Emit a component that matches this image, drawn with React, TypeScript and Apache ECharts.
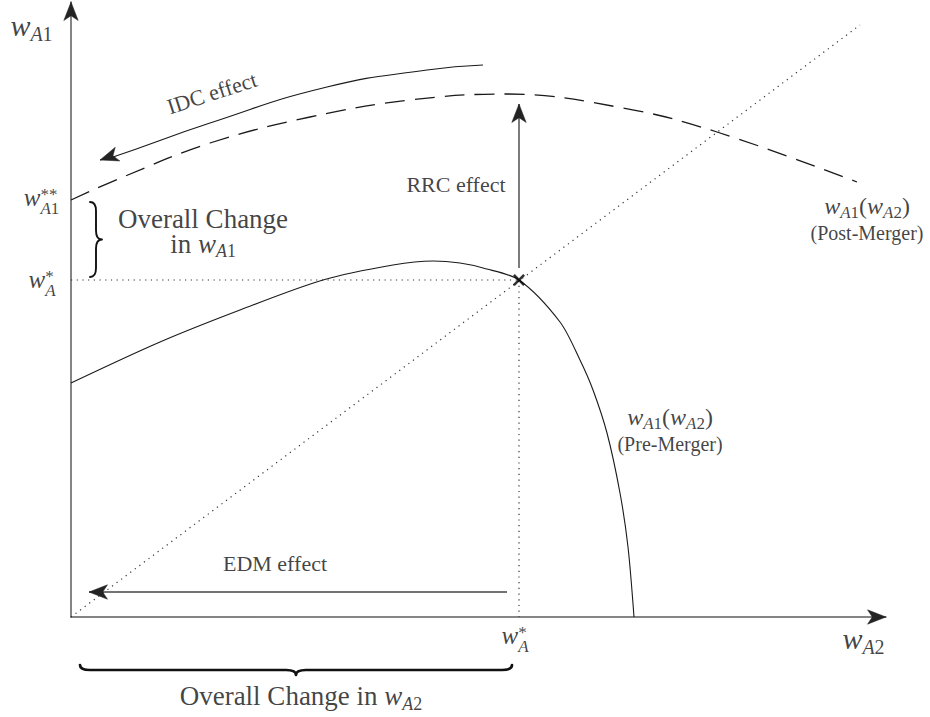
import React, { useEffect, useRef } from "react";
import * as echarts from "echarts";

// ---------- axis extents (data units) ----------
const X_MAX = 815;
const Y_MAX = 615;

// ---------- curves ----------
const preMergerCurve = [
  [0, 234], [89, 275], [169, 307], [252, 337], [322, 352], [362, 356], [389, 354],
  [412, 349], [448, 337], [489, 295], [509, 257], [522, 227], [536, 184], [549, 124],
  [557, 70], [563, 0],
];
const postMergerCurve = [
  [0, 417], [52, 440], [139, 474], [239, 500], [339, 517], [436, 523], [552, 509],
  [646, 485], [786, 435],
];
const idcCurve = [[412, 552], [356, 547], [256, 530], [139, 494], [42, 460], [29, 457]];
const diagonal45 = [[0, 0], [789, 592]];
const equilibrium = [448, 337];
const eqHorizontal = [[0, 337], [448, 337]];
const eqVertical = [[448, 337], [448, 0]];
const rrcArrow = [[448, 349], [448, 513]];
const edmArrow = [[436, 25], [18, 25]];
const axisArrowTips = [[0, 590, 0, Y_MAX], [790, 0, X_MAX, 0]];
const braceSpans = [[19, 415, 19, 340], [9, -48, 441, -48]];

// ---------- annotation texts and anchors ----------
const labelTexts = [
  "{wL|w}{sLA|A}{sLN|1}",
  "{wL|w}{sLA|A}{sLN|2}",
  "{wM|w}{stM|**}{sbA2|A}{sbN|1}",
  "{wM|w}{stM|*}{sbA1|A}",
  "{wM|w}{stM|*}{sbA1|A}",
  "{oT|Overall Change}\n{oI|in }{oW|w}{oSA|A}{oSN|1}",
  "{oI|Overall Change in }{oW|w}{oSA|A}{oSN|2}",
  "{e|IDC effect}",
  "{e|RRC effect}",
  "{e|EDM effect}",
  "{wC|w}{sCA|A}{sCN|1}{pC|(}{wC|w}{sCA|A}{sCN|2}{pC|)}\n{nC|(Post-Merger)}",
  "{wC|w}{sCA|A}{sCN|1}{pC|(}{wC|w}{sCA|A}{sCN|2}{pC|)}\n{nC|(Pre-Merger)}",
];
const labelAnchors = [
  [-39.5, 590], [792.5, -23], [-29.5, 416], [-29, 334], [444, -21.5],
  [132, 383], [230, -80.5], [141, 524], [385, 433], [204, 53.5],
  [796, 398], [599, 187],
];
const labelRotations = [0, 0, 0, 0, 0, 0, 0, 18, 0, 0, 0, 0];

// ---------- styles ----------
const SERIF = "'Liberation Serif','Times New Roman',serif";
const INK = "#111111";
const braceShapes = [
  { depth: 12, r: 9, side: -1, width: 1.9 },
  { depth: 10, r: 10, side: 1, width: 2.7 },
];

const t = (size: number, lh: number, extra: any = {}) => ({
  fontFamily: SERIF, fontSize: size, lineHeight: lh, color: INK, ...extra,
});
const IT = { fontStyle: "italic" };
const richStyles = {
  wL: t(30, 34, { ...IT, verticalAlign: "top" }),
  sLA: t(20, 34, { ...IT, verticalAlign: "bottom" }),
  sLN: t(20, 34, { verticalAlign: "bottom" }),
  wM: t(25, 32, { ...IT, verticalAlign: "top" }),
  stM: t(17, 32, { verticalAlign: "top", padding: [1, 0, 0, 0] }),
  sbA1: t(17, 32, { ...IT, verticalAlign: "bottom", padding: [0, 0, 0, -8.5] }),
  sbA2: t(17, 32, { ...IT, verticalAlign: "bottom", padding: [0, 0, 0, -17] }),
  sbN: t(17, 32, { verticalAlign: "bottom" }),
  wC: t(24, 27, { ...IT, verticalAlign: "top" }),
  pC: t(24, 27, { verticalAlign: "top" }),
  sCA: t(17, 27, { ...IT, verticalAlign: "bottom" }),
  sCN: t(17, 27, { verticalAlign: "bottom" }),
  nC: t(20, 23),
  e: t(22, 24),
  oT: t(27, 22),
  oI: t(27, 30, { verticalAlign: "top" }),
  oW: t(27, 30, { ...IT, verticalAlign: "top" }),
  oSA: t(18, 30, { ...IT, verticalAlign: "bottom" }),
  oSN: t(18, 30, { verticalAlign: "bottom" }),
};

function bracePath(a: number[], b: number[], depth: number, r: number, side: number) {
  const dx = b[0] - a[0];
  const dy = b[1] - a[1];
  const L = Math.hypot(dx, dy);
  const ex = dx / L, ey = dy / L;
  const nx = -ey * side, ny = ex * side;
  const P = (u: number, v: number) =>
    `${(a[0] + u * ex + v * nx).toFixed(2)} ${(a[1] + u * ey + v * ny).toFixed(2)}`;
  const h = depth / 2, m = L / 2;
  return `M ${P(0, 0)} Q ${P(0, h)} ${P(r, h)} L ${P(m - r, h)} Q ${P(m, h)} ${P(m, depth)} ` +
    `Q ${P(m, h)} ${P(m + r, h)} L ${P(L - r, h)} Q ${P(L, h)} ${P(L, 0)}`;
}

function arrowHead(params: any, api: any) {
  const p0 = api.coord([api.value(0), api.value(1)]);
  const p1 = api.coord([api.value(2), api.value(3)]);
  const dx = p1[0] - p0[0], dy = p1[1] - p0[1];
  const len = Math.hypot(dx, dy) || 1;
  const ux = dx / len, uy = dy / len;
  const nx = -uy, ny = ux;
  const L = 18.5, W = 7.2, N = 0.74;
  const bx = p1[0] - ux * L, by = p1[1] - uy * L;
  return {
    type: "polygon",
    shape: {
      points: [
        [p1[0], p1[1]],
        [bx + nx * W, by + ny * W],
        [p1[0] - ux * L * N, p1[1] - uy * L * N],
        [bx - nx * W, by - ny * W],
      ],
    },
    style: { fill: "#232323", stroke: "#232323", lineWidth: 0.5 },
  };
}

function brace(params: any, api: any) {
  const a = api.coord([api.value(0), api.value(1)]);
  const b = api.coord([api.value(2), api.value(3)]);
  const s = braceShapes[params.dataIndex];
  return {
    type: "path",
    shape: { pathData: bracePath(a, b, s.depth, s.r, s.side) },
    style: { stroke: INK, fill: "none", lineWidth: s.width, lineJoin: "round", lineCap: "round" },
  };
}

const lineBase = (data: number[][], color: string, width: number, type: any, smooth: any = false) => ({
  type: "line",
  data,
  smooth,
  symbol: "none",
  showSymbol: false,
  silent: true,
  clip: false,
  lineStyle: { color, width, type },
});

function buildOption() {
  const axisCommon = {
    type: "value",
    axisLine: { show: true, onZero: false, lineStyle: { color: "#5c5c5c", width: 1.5 } },
    axisTick: { show: false },
    axisLabel: { show: false },
    splitLine: { show: false },
  };
  return {
    animation: false,
    backgroundColor: "#ffffff",
    grid: { left: 71, right: 930 - 71 - X_MAX, top: 717 - 100 - Y_MAX, bottom: 100, containLabel: false },
    xAxis: { ...axisCommon, min: 0, max: X_MAX },
    yAxis: { ...axisCommon, min: 0, max: Y_MAX },
    series: [
      { ...lineBase(diagonal45, "#333333", 1.2, [1.2, 4.5]), z: 2 },
      { ...lineBase(eqHorizontal, "#333333", 1.2, [1.2, 4.5]), z: 2 },
      { ...lineBase(eqVertical, "#333333", 1.2, [1.2, 4.5]), z: 2 },
      { ...lineBase(preMergerCurve, "#1a1a1a", 1.1, "solid", 0.3), z: 3 },
      { ...lineBase(postMergerCurve, "#1a1a1a", 1.3, [20, 10], 0.4), z: 3 },
      { ...lineBase(idcCurve, "#1a1a1a", 1.1, "solid", 0.5), z: 3 },
      { ...lineBase(rrcArrow, "#444444", 1.4, "solid"), z: 3 },
      { ...lineBase(edmArrow, "#444444", 1.4, "solid"), z: 3 },
      {
        type: "custom",
        renderItem: arrowHead,
        data: [
          [rrcArrow[0][0], rrcArrow[0][1], rrcArrow[1][0], rrcArrow[1][1]],
          [edmArrow[0][0], edmArrow[0][1], edmArrow[1][0], edmArrow[1][1]],
          [idcCurve[3][0], idcCurve[3][1], idcCurve[5][0], idcCurve[5][1]],
          ...axisArrowTips,
        ],
        clip: false,
        silent: true,
        z: 6,
      },
      {
        type: "custom",
        renderItem: brace,
        data: braceSpans,
        clip: false,
        silent: true,
        z: 6,
      },
      {
        type: "scatter",
        data: [equilibrium],
        symbol: "path://M1.5,0 L5,3.5 L8.5,0 L10,1.5 L6.5,5 L10,8.5 L8.5,10 L5,6.5 L1.5,10 L0,8.5 L3.5,5 L0,1.5 Z",
        symbolSize: 12,
        itemStyle: { color: "#000000" },
        silent: true,
        z: 7,
      },
      {
        type: "scatter",
        symbolSize: 0.1,
        itemStyle: { color: "rgba(0,0,0,0)" },
        silent: true,
        clip: false,
        z: 8,
        label: {
          show: true,
          position: "inside",
          align: "center",
          verticalAlign: "middle",
          color: INK,
          fontFamily: SERIF,
          rich: richStyles,
        },
        data: labelAnchors.map((p, i) => ({
          value: p,
          label: { formatter: labelTexts[i], rotate: labelRotations[i] },
        })),
      },
    ],
  };
}

export default function App() {
  const ref = useRef<HTMLDivElement>(null);
  useEffect(() => {
    if (!ref.current) return;
    const chart = echarts.init(ref.current, null, { renderer: "svg" });
    chart.setOption(buildOption() as any);
    return () => chart.dispose();
  }, []);
  return (
    <div
      ref={ref}
      style={{ position: "fixed", left: 0, top: 0, width: 930, height: 717, background: "#ffffff" }}
    />
  );
}
